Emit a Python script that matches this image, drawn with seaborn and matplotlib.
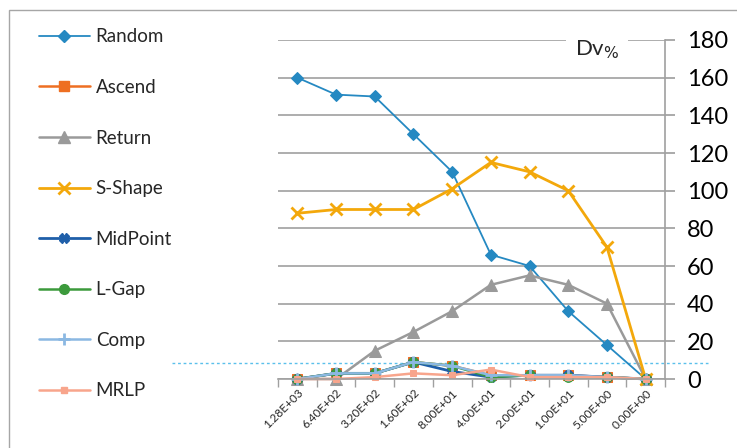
import matplotlib
matplotlib.use("Agg")
import matplotlib.pyplot as plt
from matplotlib.lines import Line2D
from matplotlib.patches import Rectangle
from matplotlib.ticker import FixedLocator
import seaborn as sns
import numpy as np

sns.set_theme(style="white")
plt.rcParams["font.family"] = ["Lato", "DejaVu Sans"]

categories = ["1.28E+03", "6.40E+02", "3.20E+02", "1.60E+02", "8.00E+01",
              "4.00E+01", "2.00E+01", "1.00E+01", "5.00E+00", "0.00E+00"]

random_v   = [160, 151, 150, 130, 110, 66, 60, 36, 18, 0]
ascend_v   = [0, 3, 3, 9, 7, 2, 2, 2, 1, 0]
return_v   = [0, 0, 15, 25, 36, 50, 55, 50, 40, 0]
sshape_v   = [88, 90, 90, 90, 101, 115, 110, 100, 70, 0]
midpoint_v = [0, 3, 3, 9, 4, 1, 2, 2, 1, 0]
lgap_v     = [0, 3, 3, 9, 7, 1, 2, 1, 1, 0]
comp_v     = [0, 3, 3, 9, 7, 2, 2, 2, 1, 0]
mrlp_v     = [0, 0, 1, 3, 2, 5, 1, 1, 1, 0]

threshold = 8.5

series = [
    ("Random",   random_v,   "#2589C2", "D", 1.3, 6,  None),
    ("Ascend",   ascend_v,   "#EE6F22", "s", 1.8, 7,  None),
    ("Return",   return_v,   "#9A9A9A", "^", 1.8, 8,  None),
    ("S-Shape",  sshape_v,   "#F3A80B", "x", 2.0, 8,  2.0),
    ("MidPoint", midpoint_v, "#1F5FA9", "X", 2.0, 7,  None),
    ("L-Gap",    lgap_v,     "#3C9A3C", "o", 1.8, 7,  None),
    ("Comp",     comp_v,     "#8BB8E2", "+", 1.8, 8,  2.0),
    ("MRLP",     mrlp_v,     "#F8A58C", "s", 1.8, 4,  None),
]

fig = plt.figure(figsize=(7.37, 4.48), dpi=100)
ax = fig.add_axes([278 / 737, 1 - 379 / 448, 387 / 737, 339 / 448])

x = np.arange(len(categories))
handles = []
for name, vals, color, mk, lw, ms, mew in series:
    kw = dict(marker=mk, markersize=ms, color=color, linewidth=lw,
              markeredgecolor=color, ax=ax, legend=False, clip_on=False)
    if mew is not None:
        kw["markeredgewidth"] = mew
    sns.lineplot(x=x, y=vals, **kw)
    handles.append(Line2D([0], [0], color=color, lw=lw, marker=mk,
                          markersize=ms, markeredgecolor=color,
                          markeredgewidth=mew if mew else 1.0, label=name))

ax.set_xlim(-0.5, len(categories) - 0.5)
ax.set_ylim(0, 180)
ax.yaxis.tick_right()
ax.set_yticks(np.arange(0, 181, 20))
ax.tick_params(axis="y", labelsize=17, length=7, color="#A0A0A0",
               direction="out", pad=9, labelcolor="black")
ax.grid(axis="y", color="#A0A0A0", linewidth=1.2)
ax.set_axisbelow(True)

ax.set_xticks(x)
ax.set_xticklabels(categories, rotation=45, ha="right", rotation_mode="anchor",
                   fontsize=8.5)
ax.tick_params(axis="x", length=0, pad=6)
ax.xaxis.set_minor_locator(FixedLocator(np.arange(-0.5, len(categories), 1)))
ax.tick_params(axis="x", which="minor", length=6, color="#A0A0A0",
               direction="out", bottom=True)

for side in ["top", "left"]:
    ax.spines[side].set_visible(False)
ax.spines["bottom"].set_color("#A0A0A0")
ax.spines["bottom"].set_linewidth(1.2)
ax.spines["right"].set_color("#A0A0A0")
ax.spines["right"].set_linewidth(1.2)

# dotted reference level reaching beyond the plot area
ax.axhline(threshold, xmin=-0.274, xmax=1.111, color="#5BC0EB",
           linewidth=1.0, linestyle=(0, (2, 2)), clip_on=False, zorder=1)

ax.text(0.824, 0.972, "Dv$_{\\%}$", transform=ax.transAxes, fontsize=16,
        ha="center", va="center",
        bbox=dict(facecolor="white", edgecolor="none", pad=6))

fig.legend(handles=handles, loc="upper left",
           bbox_to_anchor=(31 / 737, 1 - 21 / 448), frameon=False,
           fontsize=13.5, labelspacing=1.79, handlelength=2.75,
           handletextpad=0.3, borderaxespad=0)

fig.patches.append(Rectangle((9 / 737, -0.1), 1.2, 1.1 - 10 / 448,
                             transform=fig.transFigure, fill=False,
                             edgecolor="#A6A6A6", linewidth=1.0))

fig.savefig("out.png", dpi=100)
